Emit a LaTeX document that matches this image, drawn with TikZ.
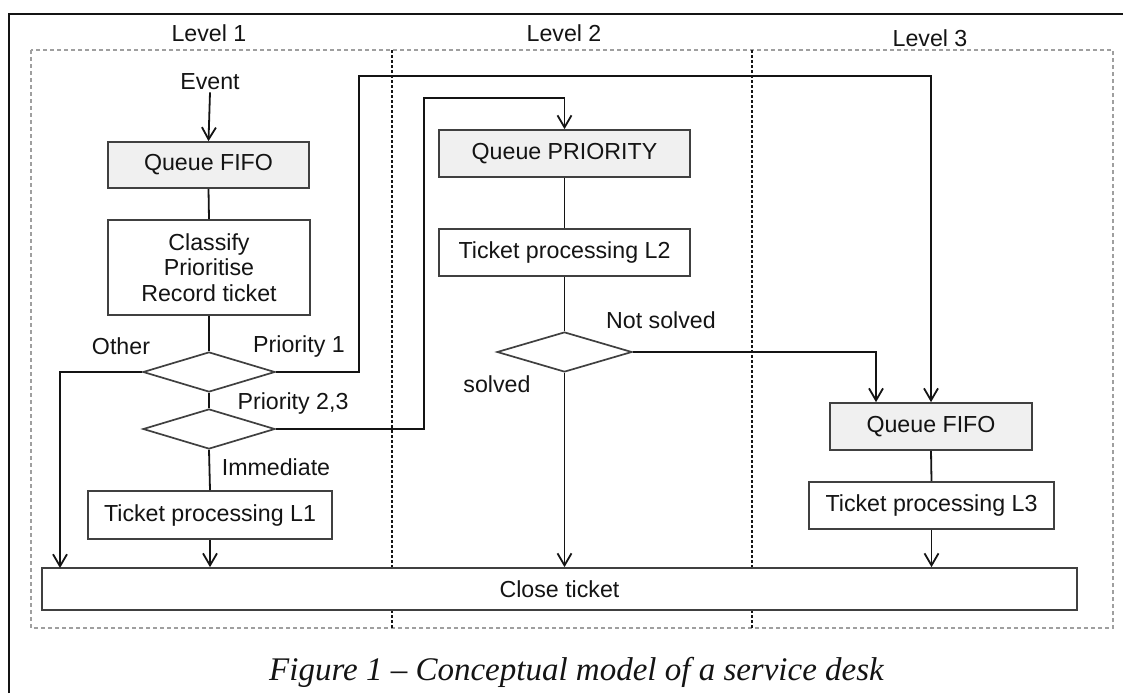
\documentclass[tikz,border=0pt]{standalone}
\usepackage{fontspec}
\setmainfont{Liberation Sans}
\newfontfamily\capfont[Ligatures=TeX]{Liberation Serif}
\usetikzlibrary{shapes.geometric,arrows.meta}
\definecolor{boxline}{HTML}{404040}
\definecolor{queuefill}{HTML}{F0F0F0}
\definecolor{ink}{HTML}{141414}
\begin{document}
\begin{tikzpicture}[x=1pt,y=-1pt,
  every node/.style={font=\fontsize{23.2}{26.5}\selectfont, text=ink},
  box/.style={draw=boxline, line width=1.7pt, fill=white, inner sep=0pt, align=center},
  queue/.style={box, fill=queuefill},
  dia/.style={diamond, draw=boxline, line width=1.7pt, inner sep=0pt, fill=white},
  conn/.style={draw=ink, line width=1.8pt},
  arr/.style={conn, -{Straight Barb[length=12pt, width=14pt, line width=1.8pt]}},
  lbl/.style={inner sep=0pt},
  lane/.style={draw=ink, line width=1.2pt, dash pattern=on 3pt off 2pt}
]
\useasboundingbox (0,0) rectangle (1123,693);
% outer frame (cropped)
\draw[line width=2pt, draw=ink] (9,693) -- (9,14) -- (1123,14);
% swimlane frame
\draw[draw=gray!75, line width=1.5pt, dash pattern=on 4pt off 3pt] (31,50) rectangle (1113,628);
\draw[lane] (392,50) -- (392,628);
\draw[lane] (752,50) -- (752,628);
% lane titles
\node[lbl] (lv1) at (209,33) {Level 1};
\node[lbl] (lv2) at (564,33) {Level 2};
\node[lbl] (lv3) at (930,38) {Level 3};
% level 1
\node[lbl] (event) at (210,82) {Event};
\node[queue, minimum width=201pt, minimum height=46pt] (q1) at (208.5,165) {Queue FIFO};
\node[box, minimum width=202pt, minimum height=95pt] (cls) at (209,267.5) {Classify\\[-1pt]Prioritise\\[-1pt]Record ticket};
\node[dia, minimum width=132pt, minimum height=40pt] (d1) at (209,372) {};
\node[dia, minimum width=132pt, minimum height=40pt] (d2) at (209,429) {};
\node[box, minimum width=244pt, minimum height=48pt] (t1) at (210,515) {Ticket processing L1};
% level 2
\node[queue, minimum width=251pt, minimum height=47pt] (q2) at (564.5,153.5) {Queue PRIORITY};
\node[box, minimum width=251pt, minimum height=47pt] (t2) at (564.5,252.5) {Ticket processing L2};
\node[dia, minimum width=135pt, minimum height=40pt] (d3) at (564.5,352) {};
% level 3
\node[queue, minimum width=202pt, minimum height=47pt] (q3) at (931,426.5) {Queue FIFO};
\node[box, minimum width=245pt, minimum height=47pt] (t3) at (931.5,505.5) {Ticket processing L3};
% close ticket
\node[box, minimum width=1035pt, minimum height=42pt] (close) at (559.5,589) {Close ticket};
% labels
\node[lbl] (lOther) at (121,346) {Other};
\node[lbl] (lP1) at (299,346) {Priority 1};
\node[lbl] (lP23) at (293,403) {Priority 2,3};
\node[lbl] (lImm) at (276,467) {Immediate};
\node[lbl] (lNS) at (661,320) {Not solved};
\node[lbl] (lS) at (497,384) {solved};
% waypoints
\coordinate (pOther) at (60,568);
\coordinate (wP1) at (359,76);
\coordinate (wP23) at (424,98);
% connectors
\draw[arr] (event.south) ++(0,2) -- (q1.north);
\draw[conn] (q1.south) -- (cls.north);
\draw[conn] (cls.south) -- (d1.north);
\draw[conn] (d1.south) -- (d2.north);
\draw[arr] (d1.west) -| (pOther);
\draw[arr] (d1.east) -| (wP1) -| (q3.north);
\draw[arr] (d2.east) -| (wP23) -| (q2.north);
\draw[conn] (d2.south) -- (t1.north);
\draw[arr] (t1.south) -- (t1.south |- close.north);
\draw[conn] (q2.south) -- (t2.north);
\draw[conn] (t2.south) -- (d3.north);
\draw[arr] (d3.south) -- (d3.south |- close.north);
\draw[arr] (d3.east) -| ([xshift=-55pt]q3.north);
\draw[conn] (q3.south) -- (t3.north);
\draw[arr] (t3.south) -- (t3.south |- close.north);
% caption
\node[lbl, font=\capfont\itshape\fontsize{33}{38}\selectfont] (cap) at (576.5,672) {Figure 1 – Conceptual model of a service desk};
\end{tikzpicture}
\end{document}
